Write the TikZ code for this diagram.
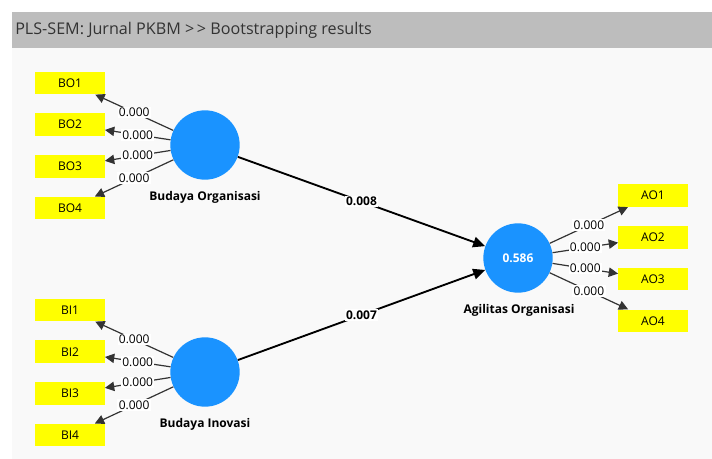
\documentclass[tikz,border=0pt]{standalone}
\usepackage{fontspec}
\setmainfont{Open Sans}
\usetikzlibrary{arrows.meta,positioning}
\definecolor{barbg}{HTML}{BDBDBD}
\definecolor{canvas}{HTML}{F9F9F9}
\definecolor{latent}{HTML}{1A93FF}
\definecolor{indic}{HTML}{FFFF00}
\definecolor{titletext}{HTML}{333333}

\begin{document}
\begin{tikzpicture}[x=0.75pt,y=-0.75pt,
  construct/.style={circle,fill=latent,minimum size=52pt,inner sep=0pt,text=white,font=\small\bfseries},
  item/.style={fill=indic,minimum width=52pt,minimum height=17pt,inner sep=0pt,font=\small},
  loading/.style={draw=black!80,line width=0.9pt,-{Triangle[length=7pt,width=7pt]}},
  structural/.style={draw=black,line width=1.4pt,-{Triangle[length=9pt,width=8pt]}},
  coef/.style={fill=white,inner sep=1pt,font=\small},
  cname/.style={font=\small\bfseries}]
  \useasboundingbox (0,0) rectangle (712,459);
  % frame
  \fill[canvas] (12,48) rectangle (712,459);
  \fill[barbg] (12,12) rectangle (712,48);
  \node[anchor=west,inner sep=0pt,text=titletext,font=\fontsize{12.1}{14}\selectfont] (title) at (15,30) {PLS-SEM: Jurnal PKBM >\,> Bootstrapping results};
  % constructs
  \node[construct] (BuO) at (205,145) {};
  \node[construct] (BuI) at (205,372) {};
  \node[construct] (AgO) at (518,258) {0.586};
  \node[cname] (BuOlab) at (205,197) {Budaya Organisasi};
  \node[cname] (BuIlab) at (205,424) {Budaya Inovasi};
  \node[cname] (AgOlab) at (519,310) {Agilitas Organisasi};
  % indicators
  \foreach \i in {1,...,4} {
    \node[item] (BO\i) at (70,{83+41.7*(\i-1)}) {BO\i};
    \node[item] (BI\i) at (70,{310+41.7*(\i-1)}) {BI\i};
    \node[item] (AO\i) at (653,{195.5+41.8*(\i-1)}) {AO\i};
    \draw[loading] (BuO) -- node[coef] {0.000} (BO\i);
    \draw[loading] (BuI) -- node[coef] {0.000} (BI\i);
    \draw[loading] (AgO) -- node[coef] {0.000} (AO\i);
  }
  % inner model
  \draw[structural] (BuO) -- node[coef,font=\small\bfseries] {0.008} (AgO);
  \draw[structural] (BuI) -- node[coef,font=\small\bfseries] {0.007} (AgO);
\end{tikzpicture}
\end{document}
